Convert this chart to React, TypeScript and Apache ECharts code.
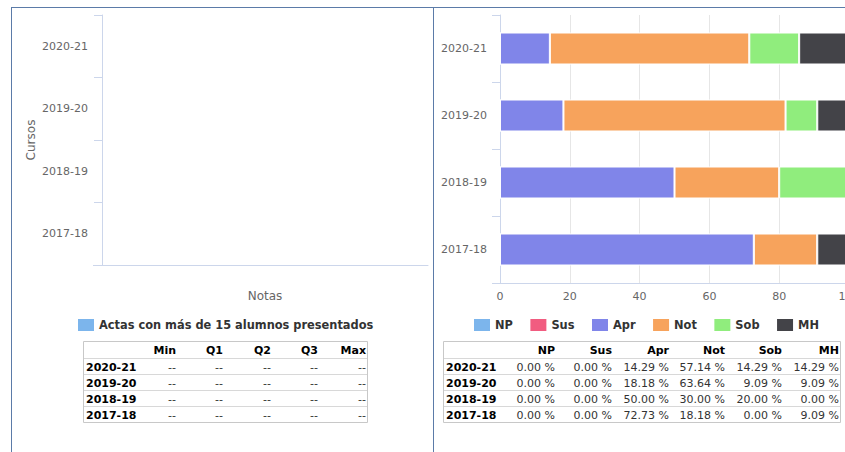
import React, { useEffect, useRef } from "react";
import * as echarts from "echarts";

const cursos = ["2020-21", "2019-20", "2018-19", "2017-18"];
const boxSeriesName = "Actas con más de 15 alumnos presentados";
const boxHeaders = ["Min", "Q1", "Q2", "Q3", "Max"];
const boxStats: (number | null)[][] = [
  [null, null, null, null, null],
  [null, null, null, null, null],
  [null, null, null, null, null],
  [null, null, null, null, null],
];

const grades = ["NP", "Sus", "Apr", "Not", "Sob", "MH"];
const gradeColors = ["#7cb5ec", "#f15c80", "#8085e9", "#f7a35c", "#90ed7d", "#434348"];
const npVals = [0.0, 0.0, 0.0, 0.0];
const susVals = [0.0, 0.0, 0.0, 0.0];
const aprVals = [14.29, 18.18, 50.0, 72.73];
const notVals = [57.14, 63.64, 30.0, 18.18];
const sobVals = [14.29, 9.09, 20.0, 0.0];
const mhVals = [14.29, 9.09, 0.0, 9.09];
const gradeValues = [npVals, susVals, aprVals, notVals, sobVals, mhVals];
const pctTicks = { min: 0, max: 100, interval: 20 };

const FONT = '"DejaVu Sans", Verdana, sans-serif';
const AXIS = "#ccd6eb";
const FRAME = "#5b7ba8";

function txt(x: number, y: number, text: string, align: string, bold: boolean, color: string) {
  return {
    type: "text",
    x,
    y,
    silent: true,
    style: {
      text,
      x: 0,
      y: 0,
      align,
      verticalAlign: "middle",
      textAlign: align,
      textVerticalAlign: "middle",
      fontSize: 11,
      fontWeight: bold ? "bold" : "normal",
      fontFamily: FONT,
      fill: color,
    },
  };
}

function hline(x1: number, x2: number, y: number, color: string) {
  return {
    type: "line",
    silent: true,
    shape: { x1, y1: y, x2, y2: y },
    style: { stroke: color, lineWidth: 1 },
  };
}
function vline(x: number, y1: number, y2: number, color: string) {
  return {
    type: "line",
    silent: true,
    shape: { x1: x, y1, x2: x, y2 },
    style: { stroke: color, lineWidth: 1 },
  };
}

function buildTable(
  x0: number,
  x1: number,
  y0: number,
  labelX: number,
  colRights: number[],
  headers: string[],
  rows: string[],
  cells: string[][]
) {
  const headH = 17;
  const rowH = 16;
  const els: any[] = [];
  const bottom = y0 + headH + rowH * rows.length;
  els.push({
    type: "rect",
    silent: true,
    shape: { x: x0 + 0.5, y: y0 + 0.5, width: x1 - x0, height: bottom - y0 },
    style: { fill: "#fff", stroke: "#c8c8c8", lineWidth: 1 },
  });
  headers.forEach((h, i) => els.push(txt(colRights[i], y0 + headH / 2 + 1, h, "right", true, "#000")));
  rows.forEach((r, ri) => {
    const top = y0 + headH + rowH * ri;
    els.push(hline(x0 + 1, x1, top + 0.5, "#d8d8d8"));
    els.push(txt(labelX, top + rowH / 2 + 1, r, "left", true, "#000"));
    cells[ri].forEach((c, ci) => els.push(txt(colRights[ci], top + rowH / 2 + 1, c, "right", false, "#333")));
  });
  return els;
}

export default function App() {
  const ref = useRef<HTMLDivElement>(null);
  useEffect(() => {
    if (!ref.current) return;
    const chart = echarts.init(ref.current, undefined, { renderer: "svg" });

    const boxCells = boxStats.map((r) => r.map((v) => (v === null ? "--" : v.toFixed(2))));
    const pctCells = cursos.map((_, ri) => gradeValues.map((g) => g[ri].toFixed(2) + " %"));

    const graphics: any[] = [
      hline(11, 845, 7.5, FRAME),
      vline(11.5, 7, 452, FRAME),
      vline(433.5, 7, 452, FRAME),
      hline(93, 102, 265.5, AXIS),
      hline(492, 500, 283.5, AXIS),
      ...buildTable(83, 367, 341, 86, [176, 223, 271, 318, 366], boxHeaders, cursos, boxCells),
      ...buildTable(443, 840, 341, 446, [555, 612, 669, 725, 782, 839], grades, cursos, pctCells),
    ];

    const legendText = { fontSize: 11.4, fontWeight: "bold", color: "#333", fontFamily: FONT };

    const option: any = {
      animation: false,
      backgroundColor: "#fff",
      textStyle: { fontFamily: FONT },
      grid: [
        { left: 102, top: 15, width: 326, height: 250, outerBoundsMode: "none", containLabel: false },
        { left: 500, top: 15, width: 349, height: 268, outerBoundsMode: "none", containLabel: false },
      ],
      legend: [
        {
          left: 78,
          top: 319,
          padding: 0,
          icon: "rect",
          itemWidth: 16,
          itemHeight: 12,
          textStyle: legendText,
          data: [{ name: boxSeriesName, itemStyle: { color: "#7cb5ec", borderWidth: 0 } }],
        },
        {
          left: 474,
          top: 319,
          padding: 0,
          icon: "rect",
          itemWidth: 16,
          itemHeight: 12,
          itemGap: 17.5,
          itemStyle: { borderWidth: 0 },
          textStyle: legendText,
          data: grades,
        },
      ],
      xAxis: [
        {
          gridIndex: 0,
          type: "value",
          min: 0,
          max: 10,
          name: "Notas",
          nameLocation: "middle",
          nameGap: 25,
          nameTextStyle: { fontSize: 12, color: "#666", fontFamily: FONT },
          axisLine: { show: true, lineStyle: { color: AXIS } },
          axisTick: { show: false },
          axisLabel: { show: false },
          splitLine: { show: false },
        },
        {
          gridIndex: 1,
          type: "value",
          min: pctTicks.min,
          max: pctTicks.max,
          interval: pctTicks.interval,
          axisLine: { show: true, lineStyle: { color: AXIS } },
          axisTick: { show: false },
          axisLabel: { color: "#666", fontSize: 11, margin: 8, fontFamily: FONT },
          splitLine: { show: true, lineStyle: { color: "#e6e6e6" } },
        },
      ],
      yAxis: [
        {
          gridIndex: 0,
          type: "category",
          data: cursos,
          inverse: true,
          name: "Cursos",
          nameLocation: "middle",
          nameGap: 65,
          nameRotate: 90,
          nameTextStyle: { fontSize: 12, color: "#666", fontFamily: FONT },
          axisLine: { show: true, lineStyle: { color: AXIS } },
          axisTick: { show: true, length: 8, lineStyle: { color: AXIS } },
          axisLabel: { color: "#666", fontSize: 11, margin: 14, fontFamily: FONT },
          splitLine: { show: false },
        },
        {
          gridIndex: 1,
          type: "category",
          data: cursos,
          inverse: true,
          axisLine: { show: true, lineStyle: { color: AXIS } },
          axisTick: { show: true, length: 8, lineStyle: { color: AXIS } },
          axisLabel: { color: "#666", fontSize: 11, margin: 13, fontFamily: FONT },
          splitLine: { show: false },
        },
      ],
      series: [
        {
          name: boxSeriesName,
          type: "boxplot",
          xAxisIndex: 0,
          yAxisIndex: 0,
          itemStyle: { color: "#7cb5ec", borderColor: "#7cb5ec" },
          data: [],
        },
        ...grades.map((g, i) => ({
          name: g,
          type: "bar",
          stack: "total",
          xAxisIndex: 1,
          yAxisIndex: 1,
          barWidth: 32,
          itemStyle: { color: gradeColors[i], borderColor: "#fff", borderWidth: 1 },
          data: gradeValues[i],
        })),
      ],
      graphic: graphics,
    };
    chart.setOption(option);
    return () => chart.dispose();
  }, []);

  return (
    <div
      ref={ref}
      style={{ position: "absolute", left: 0, top: 0, width: 845, height: 452, background: "#fff" }}
    />
  );
}
